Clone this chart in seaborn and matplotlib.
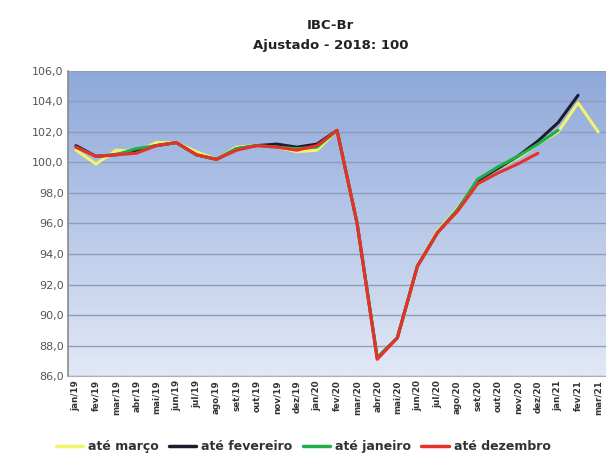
import numpy as np
import pandas as pd
import matplotlib
matplotlib.use("Agg")
import matplotlib.pyplot as plt
import seaborn as sns

months = ["jan/19", "fev/19", "mar/19", "abr/19", "mai/19", "jun/19", "jul/19", "ago/19",
          "set/19", "out/19", "nov/19", "dez/19", "jan/20", "fev/20", "mar/20", "abr/20",
          "mai/20", "jun/20", "jul/20", "ago/20", "set/20", "out/20", "nov/20", "dez/20",
          "jan/21", "fev/21", "mar/21"]

ate_marco = [100.8, 99.9, 100.8, 100.7, 101.3, 101.3, 100.7, 100.2, 101.0, 101.1, 101.0, 100.7,
             100.8, 102.1, 96.0, 87.2, 88.5, 93.2, 95.5, 97.0, 98.8, 99.6, 100.3, 101.2,
             102.0, 103.9, 102.0]
ate_fevereiro = [101.1, 100.4, 100.5, 100.8, 101.1, 101.3, 100.5, 100.2, 100.9, 101.1, 101.2, 101.0,
                 101.2, 102.1, 96.0, 87.2, 88.5, 93.2, 95.4, 96.9, 98.8, 99.6, 100.4, 101.4,
                 102.6, 104.4]
ate_janeiro = [101.0, 100.4, 100.5, 100.9, 101.1, 101.3, 100.5, 100.2, 100.9, 101.1, 101.0, 100.9,
               101.0, 102.1, 96.0, 87.2, 88.5, 93.2, 95.4, 96.9, 98.9, 99.7, 100.4, 101.2,
               102.1]
ate_dezembro = [101.0, 100.4, 100.5, 100.6, 101.1, 101.3, 100.5, 100.2, 100.8, 101.1, 101.0, 100.8,
                101.1, 102.1, 96.0, 87.1, 88.5, 93.2, 95.4, 96.8, 98.6, 99.3, 99.9, 100.6]

series_names = ["até março", "até fevereiro", "até janeiro", "até dezembro"]
series_values = [ate_marco, ate_fevereiro, ate_janeiro, ate_dezembro]
series_colors = ["#F4F46A", "#1C1C2E", "#1FAF4A", "#E8302A"]

rows = []
for name, vals in zip(series_names, series_values):
    for i, v in enumerate(vals):
        rows.append({"idx": i, "valor": v, "serie": name})
df = pd.DataFrame(rows)

sns.set_style("white")
plt.rcParams['font.family'] = ['DejaVu Sans']

fig = plt.figure(figsize=(6.06, 4.57), dpi=100)
ax = fig.add_axes([0.112, 0.177, 0.89, 0.668])

xmin, xmax = -0.4, 26.45

# gradient background
grad = np.linspace(0, 1, 256).reshape(-1, 1)
top = np.array([0x8E, 0xA8, 0xDA]) / 255
bot = np.array([0xE2, 0xE8, 0xF6]) / 255
img = top[None, None, :] * (1 - grad[:, :, None]) + bot[None, None, :] * grad[:, :, None]
ax.imshow(img, extent=[xmin, xmax, 86, 106], aspect="auto", zorder=0, origin="upper")

sns.lineplot(data=df, x="idx", y="valor", hue="serie", hue_order=series_names,
             palette=series_colors, linewidth=2.2, ax=ax, legend=False, zorder=3)

ax.set_xlim(xmin, xmax)
ax.set_ylim(86, 106)
yt = np.arange(86, 106.1, 2)
ax.set_yticks(yt)
ax.set_yticklabels([f"{v:.1f}".replace(".", ",") for v in yt], fontsize=8, color="#555555")
ax.set_xticks(range(len(months)))
ax.set_xticklabels(months, rotation=90, fontsize=6.3, color="#333333", fontweight="bold")
ax.tick_params(axis="both", length=0, pad=3)
for y in yt:
    ax.axhline(y, color="#8E9CB8", linewidth=1.0, zorder=1)
ax.set_xlabel("")
ax.set_ylabel("")
for s in ["top", "right"]:
    ax.spines[s].set_visible(False)
ax.spines["left"].set_color("#8A8A8A")
ax.spines["bottom"].set_color("#B0B0B0")
ax.spines["left"].set_linewidth(1.2)

fig.text(0.545, 0.945, "IBC-Br", ha="center", va="center", fontsize=9.5, fontweight="bold", color="#222222")
fig.text(0.545, 0.900, "Ajustado - 2018: 100", ha="center", va="center", fontsize=9.5, fontweight="bold", color="#222222")

handles = [plt.Line2D([0], [0], color=c, linewidth=2.5) for c in series_colors]
fig.legend(handles, series_names, loc="center", bbox_to_anchor=(0.5, 0.022), ncol=4, frameon=False,
           prop={"size": 9, "weight": "bold"}, labelcolor="#333333",
           handlelength=2.2, columnspacing=0.8, handletextpad=0.4)

fig.savefig("out.png", dpi=100, facecolor="white")
